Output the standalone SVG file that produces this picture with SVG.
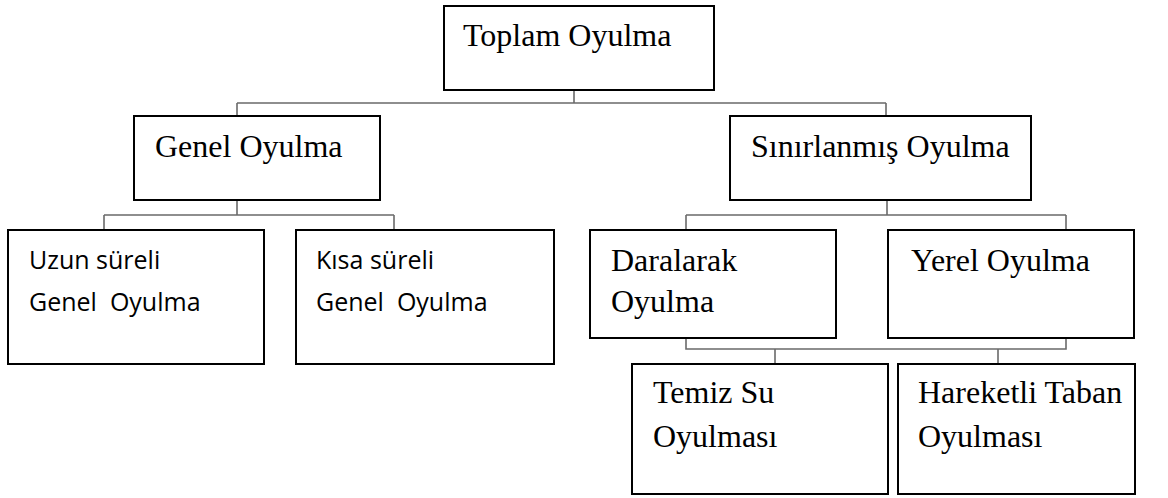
<svg xmlns="http://www.w3.org/2000/svg" width="1168" height="498" viewBox="0 0 1168 498">
<style>
.box{fill:#fff;stroke:#000;stroke-width:2}
.c{fill:none;stroke:#6a6a6a;stroke-width:1.6}
.t{font-family:"Liberation Serif","Times New Roman",serif;font-size:32px;fill:#000}
.s{font-family:"Open Sans","Liberation Sans",sans-serif;font-size:25px;fill:#000}
</style>
<rect width="1168" height="498" fill="#fff"/>
<g id="connectors">
<path class="c" d="M574 90V103M237 103H886M237 103V116M886 103V116"/>
<path class="c" d="M237 200V215M104 215H394M104 215V230M394 215V230"/>
<path class="c" d="M887 200V215M686 215H1066M686 215V230M1066 215V230"/>
<path class="c" d="M686 338V349H1066V338M775 349V364M998 349V364"/>
</g>
<g id="toplam"><rect class="box" x="444" y="6" width="270" height="84"/><text class="t" x="463" y="46">Toplam Oyulma</text></g>
<g id="genel"><rect class="box" x="134" y="116" width="246" height="84"/><text class="t" x="155" y="157">Genel Oyulma</text></g>
<g id="sinirlanmis"><rect class="box" x="730" y="116" width="301" height="84"/><text class="t" x="751" y="157">Sınırlanmış Oyulma</text></g>
<g id="uzun"><rect class="box" x="8" y="230" width="256" height="134"/><text class="s" x="29" y="269">Uzun süreli</text><text class="s" x="29" y="311" xml:space="preserve">Genel  Oyulma</text></g>
<g id="kisa"><rect class="box" x="296" y="230" width="258" height="134"/><text class="s" x="316" y="269">Kısa süreli</text><text class="s" x="316" y="311" xml:space="preserve">Genel  Oyulma</text></g>
<g id="daralarak"><rect class="box" x="590" y="230" width="246" height="108"/><text class="t" x="611" y="271">Daralarak</text><text class="t" x="611" y="312">Oyulma</text></g>
<g id="yerel"><rect class="box" x="888" y="230" width="246" height="108"/><text class="t" x="911" y="271">Yerel Oyulma</text></g>
<g id="temiz"><rect class="box" x="632" y="364" width="256" height="130"/><text class="t" x="653" y="403">Temiz Su</text><text class="t" x="653" y="447">Oyulması</text></g>
<g id="hareketli"><rect class="box" x="898" y="364" width="237" height="130"/><text class="t" x="918" y="403">Hareketli Taban</text><text class="t" x="918" y="447">Oyulması</text></g>
</svg>
